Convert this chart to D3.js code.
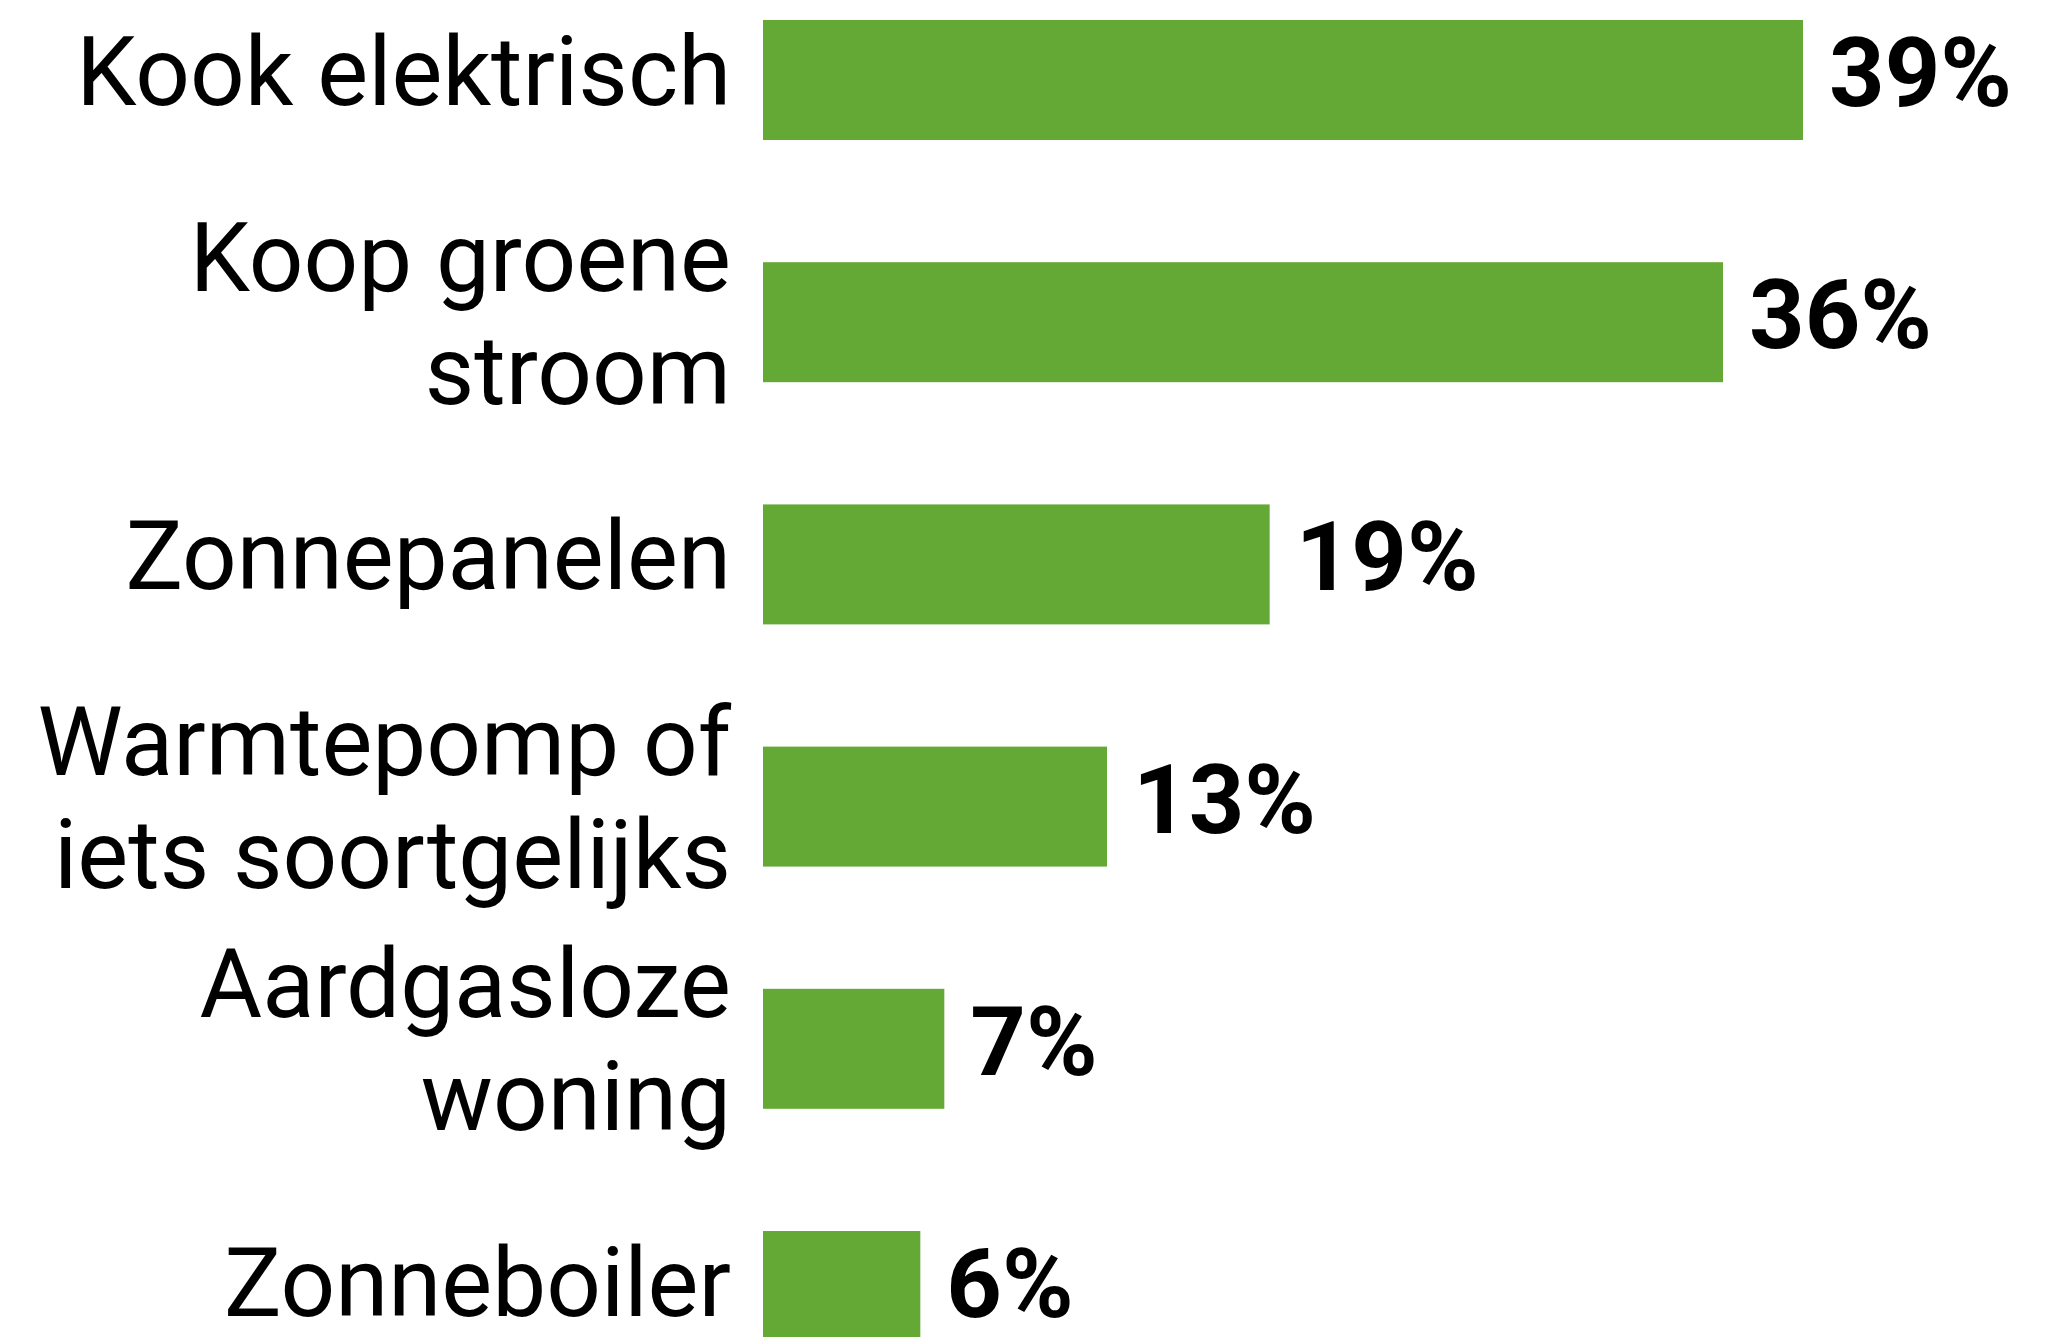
<!DOCTYPE html>
<html>
<head>
<meta charset="utf-8">
<script src="https://cdn.jsdelivr.net/npm/d3@7"></script>
<style>
  html, body { margin: 0; padding: 0; background: #ffffff; }
  svg { display: block; }
</style>
</head>
<body>
<svg id="chart" width="2065" height="1337"></svg>
<script>
const categories = [
  "Kook elektrisch",
  "Koop groene\nstroom",
  "Zonnepanelen",
  "Warmtepomp of\niets soortgelijks",
  "Aardgasloze\nwoning",
  "Zonneboiler"
];
const values = [39, 36, 19, 12.9, 6.8, 5.9];
const valueLabels = ["39%", "36%", "19%", "13%", "7%", "6%"];

const W = 2065, H = 1337;
const svg = d3.select("#chart");

const barLeft = 763, barRight = 1803;
const x = d3.scaleLinear().domain([0, 39]).range([barLeft, barRight]);
const y = d3.scaleBand()
  .domain(categories)
  .range([20, 1351])
  .paddingInner(0.5046)
  .paddingOuter(0);

const barColor = "#64a936";

const g = svg.append("g");

g.selectAll("rect.bar")
  .data(categories)
  .join("rect")
  .attr("class", "bar")
  .attr("x", x(0))
  .attr("y", d => y(d))
  .attr("width", (d, i) => x(values[i]) - x(0))
  .attr("height", y.bandwidth())
  .attr("fill", barColor);

// category labels
const lineH = 113;
const labelFont = "Roboto, 'Noto Sans', sans-serif";
g.selectAll("text.cat")
  .data(categories)
  .join("text")
  .attr("class", "cat")
  .attr("text-anchor", "end")
  .attr("font-family", labelFont)
  .attr("font-size", 96)
  .attr("fill", "#000")
  .each(function(d) {
    const lines = d.split("\n");
    const cy = y(d) + y.bandwidth() / 2 + 25;
    const start = cy - (lines.length - 1) * lineH / 2;
    d3.select(this).selectAll("tspan")
      .data(lines)
      .join("tspan")
      .attr("x", barLeft - 32)
      .attr("y", (l, j) => start + j * lineH)
      .text(l => l);
  });

// value labels
g.selectAll("text.val")
  .data(categories)
  .join("text")
  .attr("class", "val")
  .attr("x", (d, i) => x(values[i]) + 26)
  .attr("y", d => y(d) + y.bandwidth() / 2 + 26)
  .attr("font-family", labelFont)
  .attr("font-weight", 700)
  .attr("font-size", 97)
  .attr("fill", "#000")
  .text((d, i) => valueLabels[i]);
</script>
</body>
</html>
